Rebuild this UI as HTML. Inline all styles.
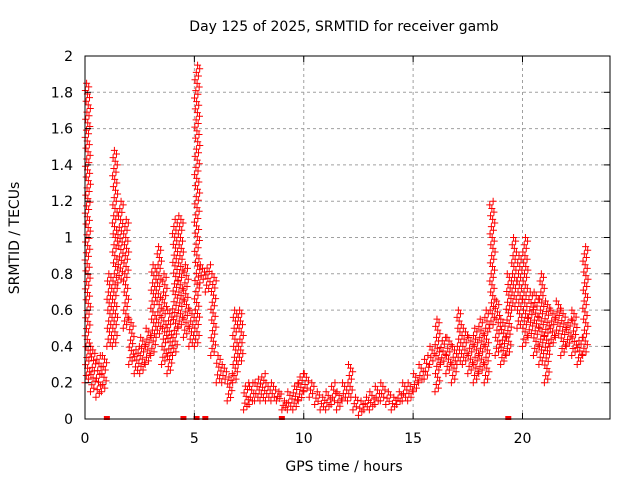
<!DOCTYPE html>
<html><head><meta charset="utf-8"><style>
body{margin:0;background:#fff;}
svg text{font-family:"DejaVu Sans","Liberation Sans",sans-serif;font-size:14px;fill:#000;}
</style></head><body>
<svg id="chart" width="640" height="480" xmlns="http://www.w3.org/2000/svg">
<rect width="640" height="480" fill="#fff"/>
<text x="344" y="31" text-anchor="middle">Day 125 of 2025, SRMTID for receiver gamb</text>
<text transform="translate(19,238) rotate(-90)" text-anchor="middle">SRMTID / TECUs</text>
<text x="344" y="471" text-anchor="middle">GPS time / hours</text>
<g id="grid"></g>
<g id="marks"></g>
<rect x="85" y="56" width="525" height="363" fill="none" stroke="#000" stroke-width="1"/>
<g id="axes"></g>
</svg>
<script>
const xTicks=[0,5,10,15,20];
const yTicks=[0,0.2,0.4,0.6,0.8,1,1.2,1.4,1.6,1.8,2];
const yTickLabels=["0","0.2","0.4","0.6","0.8","1","1.2","1.4","1.6","1.8","2"];
const binTimes=[0,0.25,0.5,0.75,1,1.25,1.5,1.75,2,2.25,2.5,2.75,3,3.25,3.5,3.75,4,4.25,4.5,4.75,5,5.25,5.5,5.75,6,6.25,6.5,6.75,7,7.25,7.5,7.75,8,8.25,8.5,8.75,9,9.25,9.5,9.75,10,10.25,10.5,10.75,11,11.25,11.5,11.75,12,12.25,12.5,12.75,13,13.25,13.5,13.75,14,14.25,14.5,14.75,15,15.25,15.5,15.75,16,16.25,16.5,16.75,17,17.25,17.5,17.75,18,18.25,18.5,18.75,19,19.25,19.5,19.75,20,20.25,20.5,20.75,21,21.25,21.5,21.75,22,22.25,22.5,22.75];
const lowValues=[0.2,0.15,0.12,0.15,0.4,0.4,0.75,0.5,0.3,0.25,0.25,0.3,0.35,0.45,0.3,0.25,0.35,0.5,0.45,0.4,0.4,0.75,0.7,0.35,0.2,0.2,0.1,0.2,0.3,0.05,0.08,0.1,0.1,0.1,0.1,0.1,0.05,0.05,0.05,0.1,0.15,0.12,0.08,0.05,0.05,0.08,0.05,0.1,0.1,0.05,0.02,0.05,0.05,0.08,0.1,0.08,0.05,0.08,0.1,0.1,0.15,0.2,0.22,0.3,0.15,0.3,0.25,0.2,0.3,0.3,0.25,0.2,0.25,0.2,0.5,0.35,0.3,0.35,0.6,0.5,0.4,0.45,0.35,0.3,0.2,0.4,0.45,0.35,0.4,0.35,0.3,0.35];
const highValues=[1.85,0.4,0.35,0.35,0.8,1.48,1.2,1.1,0.55,0.4,0.45,0.5,0.85,0.95,0.8,0.6,1.1,1.12,0.85,0.6,1.95,0.85,0.85,0.8,0.35,0.3,0.25,0.6,0.6,0.2,0.2,0.22,0.25,0.2,0.2,0.15,0.1,0.15,0.2,0.25,0.25,0.2,0.15,0.12,0.15,0.2,0.15,0.2,0.3,0.12,0.1,0.12,0.15,0.18,0.2,0.15,0.12,0.15,0.2,0.2,0.25,0.3,0.35,0.4,0.55,0.45,0.45,0.4,0.6,0.5,0.45,0.5,0.55,0.6,1.2,0.65,0.55,0.8,1.0,0.9,1.0,0.7,0.7,0.8,0.65,0.6,0.65,0.6,0.55,0.6,0.45,0.95];
const gapTimes=[1.0,4.5,5.1,5.5,9.0,19.35];

const NS="http://www.w3.org/2000/svg";
const X0=85,X1=610,Y0=419,Y1=56,XMAX=24,YMAX=2;
function xs(t){return X0+t/XMAX*(X1-X0);}
function ys(v){return Y0-v/YMAX*(Y0-Y1);}
function mk(tag,attrs,parent){const e=document.createElementNS(NS,tag);for(const k in attrs)e.setAttribute(k,attrs[k]);parent.appendChild(e);return e;}
const grid=document.getElementById('grid'),axes=document.getElementById('axes'),marks=document.getElementById('marks');
yTicks.forEach((v,i)=>{
  const y=ys(v);
  if(v>0&&v<YMAX){const g=mk('line',{x1:X0,x2:X1,y1:y,y2:y,stroke:'#a0a0a0','stroke-dasharray':'3,3'},grid);
  
  }
  mk('line',{x1:X0,x2:X0+6,y1:y,y2:y,stroke:'#000'},axes);
  mk('line',{x1:X1-6,x2:X1,y1:y,y2:y,stroke:'#000'},axes);
  const t=mk('text',{x:73,y:y+5,'text-anchor':'end'},axes);t.textContent=yTickLabels[i];
  
  
});
xTicks.forEach(v=>{
  const x=xs(v);
  if(v>0){const g=mk('line',{x1:x,x2:x,y1:Y0,y2:Y1,stroke:'#a0a0a0','stroke-dasharray':'3,3'},grid);
  
  }
  mk('line',{x1:x,x2:x,y1:Y0,y2:Y0-6,stroke:'#000'},axes);
  mk('line',{x1:x,x2:x,y1:Y1,y2:Y1+6,stroke:'#000'},axes);
  const t=mk('text',{x:x,y:443,'text-anchor':'middle'},axes);t.textContent=String(v);
  
  
});
function cross(x,y,col){return mk('path',{d:`M${x-3.5},${y}h7M${x},${y-3.5}v7`,stroke:col,'stroke-width':1,fill:'none'},marks);}
binTimes.forEach((t,i)=>{
  const lo=lowValues[i],hi=highValues[i];
  const n=Math.max(4,Math.round((hi-lo)/0.02));
  for(let k=0;k<=n;k++){
    const v=lo+(hi-lo)*k/n;
    const f=(k*0.6180339)%1;
    const tt=t+0.25*f;
    const c=cross(xs(tt),ys(v),'#ff0000');
    
    
  }
});
gapTimes.forEach(t=>{
  const r=mk('rect',{x:xs(t)-3,y:Y0-3,width:6,height:4,fill:'#ff0000'},marks);
  
  
});
</script>
</body></html>
